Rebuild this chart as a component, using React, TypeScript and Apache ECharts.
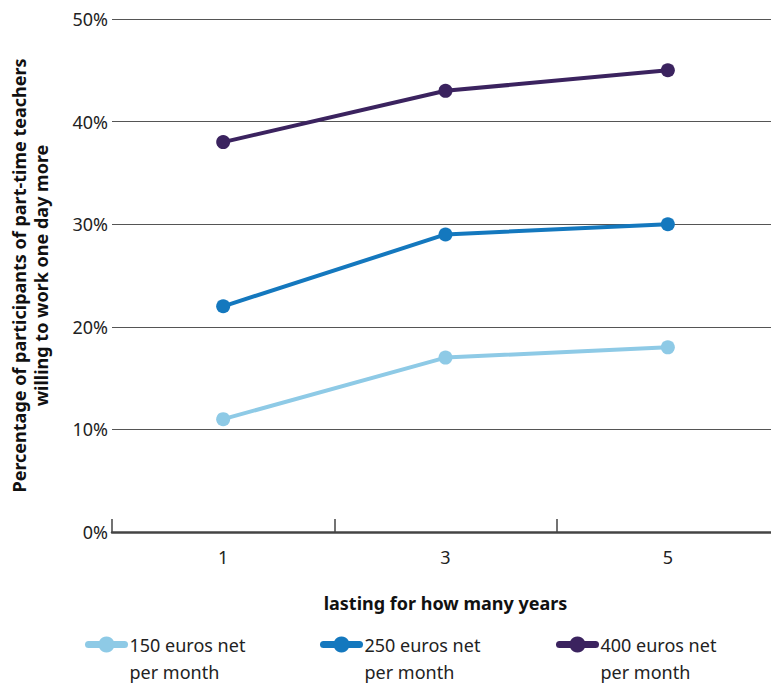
import React, { useEffect, useRef } from "react";
import * as echarts from "echarts";

const years = ["1", "3", "5"];
const seriesNames = [
  "150 euros net per month",
  "250 euros net per month",
  "400 euros net per month",
];
const values150 = [11, 17, 18];
const values250 = [22, 29, 30];
const values400 = [38, 43, 45];
const colors = ["#8ecae6", "#1478be", "#3b235f"];

const FONT = "Noto Sans";

export default function App() {
  const ref = useRef<HTMLDivElement>(null);

  useEffect(() => {
    if (!ref.current) return;
    const chart = echarts.init(ref.current, null, { renderer: "svg" });
    const allValues = [values150, values250, values400];

    const legendLefts = [85, 320, 556];
    chart.setOption({
      animation: false,
      textStyle: { fontFamily: FONT },
      grid: {
        left: 112,
        right: 0,
        top: 19,
        bottom: 151,
        containLabel: false,
        outerBoundsMode: "none",
      },
      legend: seriesNames.map((name, i) => ({
        data: [name],
        left: legendLefts[i],
        top: 604,
        padding: 0,
        itemWidth: 36,
        itemHeight: 20,
        itemGap: 3,
        lineStyle: { width: 7, cap: "round" },
        // blank first line keeps the icon level with the first text line
        formatter: (n: string) => " \n" + n.replace(" per month", "\nper month"),
        textStyle: {
          fontFamily: FONT,
          fontSize: 18,
          color: "#222",
          lineHeight: 27,
        },
      })),
      xAxis: {
        type: "category",
        data: years,
        boundaryGap: true,
        name: "lasting for how many years",
        nameLocation: "middle",
        nameGap: 62,
        nameMoveOverlap: false,
        nameTextStyle: { fontFamily: FONT, fontSize: 18, fontWeight: "bold", color: "#111" },
        axisLine: { lineStyle: { color: "#444", width: 2.5 } },
        axisTick: {
          show: true,
          inside: true,
          length: 13,
          alignWithLabel: false,
          interval: 0,
          lineStyle: { color: "#444", width: 1.5 },
        },
        axisLabel: { fontFamily: FONT, fontSize: 18, color: "#222", margin: 16 },
      },
      yAxis: {
        type: "value",
        min: 0,
        max: 50,
        interval: 10,
        name: "Percentage of participants of part-time teachers\nwilling to work one day more",
        nameLocation: "middle",
        nameGap: 60,
        nameRotate: 90,
        nameMoveOverlap: false,
        nameTextStyle: {
          fontFamily: FONT,
          fontSize: 18,
          fontWeight: "bold",
          color: "#111",
          lineHeight: 22,
        },
        axisLine: { show: false },
        axisTick: { show: false },
        axisLabel: {
          fontFamily: FONT,
          fontSize: 18,
          color: "#222",
          margin: 4,
          formatter: "{value}%",
        },
        splitLine: { lineStyle: { color: "#555", width: 1.2 } },
      },
      series: seriesNames.map((name, i) => ({
        name,
        type: "line",
        data: allValues[i],
        color: colors[i],
        symbol: "circle",
        symbolSize: 14,
        lineStyle: { width: 4, color: colors[i] },
        itemStyle: { color: colors[i] },
      })),
    });
    return () => chart.dispose();
  }, []);

  return <div ref={ref} style={{ width: 779, height: 683, marginLeft: -8, marginTop: -8 }} />;
}
